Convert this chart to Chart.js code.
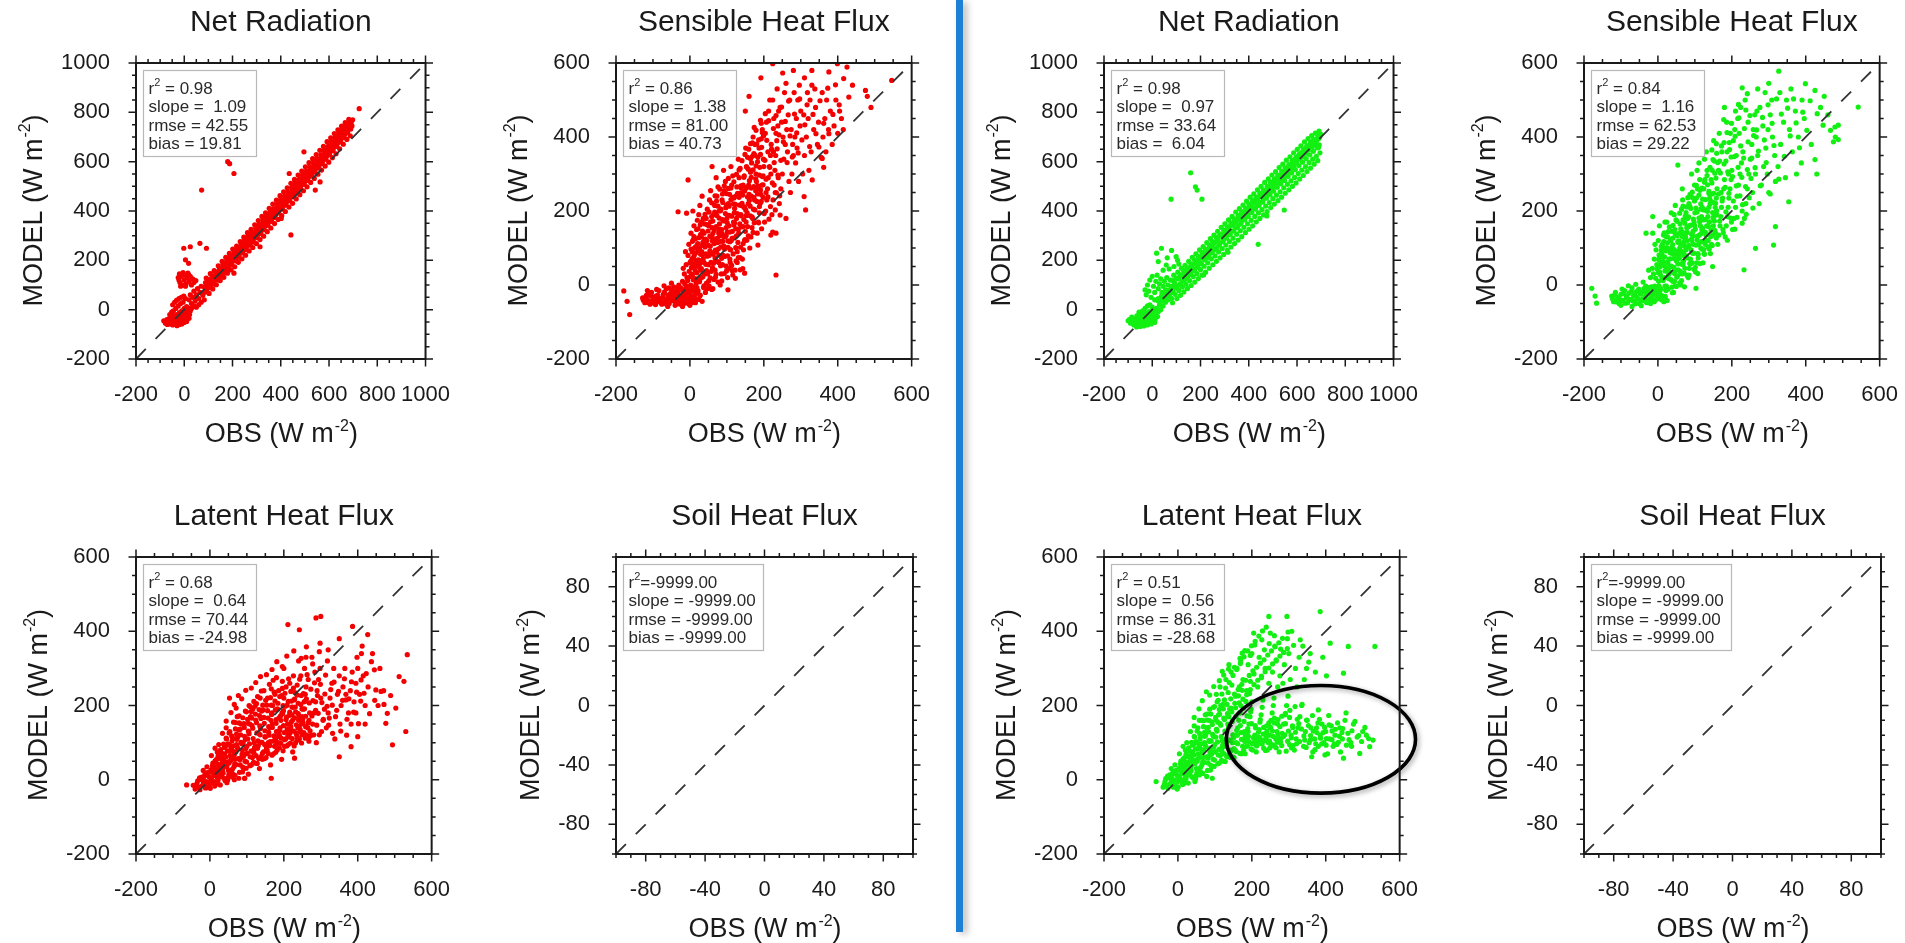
<!DOCTYPE html>
<html><head><meta charset="utf-8">
<script src="https://cdn.jsdelivr.net/npm/chart.js@4.4.1/dist/chart.umd.min.js"></script>
<style>
html,body{margin:0;padding:0;background:#fff;width:1905px;height:943px;overflow:hidden;}
canvas{position:absolute;}
#divider{position:absolute;left:956px;top:0;width:7px;height:932px;background:#1d80d4;box-shadow:4px 2px 7px rgba(0,0,0,0.28);}
</style></head><body>
<div id="divider"></div>
<script>
const FONT = "'Liberation Sans', Arial, Helvetica, sans-serif";

// ---------- axes ----------
const netTicks = [-200,0,200,400,600,800,1000];
const fluxTicks = [-200,0,200,400,600];
const soilTicks = [-80,-40,0,40,80];
const netRange = [-200,1000];
const fluxRange = [-200,600];
const soilRange = [-100,100];
const netMinor = 50, fluxMinor = 50, soilMinor = 10;

// ---------- texts ----------
const panelTitles = ['Net Radiation','Sensible Heat Flux','Net Radiation','Sensible Heat Flux',
                     'Latent Heat Flux','Soil Heat Flux','Latent Heat Flux','Soil Heat Flux'];
const statR2 = [' = 0.98',' = 0.86',' = 0.98',' = 0.84',' = 0.68','=-9999.00',' = 0.51','=-9999.00'];
const statSlope = ['slope =  1.09','slope =  1.38','slope =  0.97','slope =  1.16','slope =  0.64','slope = -9999.00','slope =  0.56','slope = -9999.00'];
const statRmse = ['rmse = 42.55','rmse = 81.00','rmse = 33.64','rmse = 62.53','rmse = 70.44','rmse = -9999.00','rmse = 86.31','rmse = -9999.00'];
const statBias = ['bias = 19.81','bias = 40.73','bias =  6.04','bias = 29.22','bias = -24.98','bias = -9999.00','bias = -28.68','bias = -9999.00'];
const xTitle = 'OBS (W m', yTitle = 'MODEL (W m', unitSup = '-2';

// ---------- data: [OBS, MODEL] ----------
const netRadL = [
 [-85,-45],[-78,-55],[-72,-40],[-70,-60],[-65,-50],[-62,-35],[-58,-58],[-55,-45],[-50,-30],[-48,-62],[-45,-52],[-42,-40],[-40,-25],[-38,-58],[-35,-48],[-32,-35],[-30,-20],[-28,-55],[-25,-42],[-22,-30],[-20,-12],[-18,-50],[-15,-38],[-12,-25],[-10,-5],[-8,-45],[-5,-32],[-2,-18],[0,5],[2,-40],[5,-25],[8,-10],[10,12],[12,-30],[15,-15],[18,5],[20,-35],[22,-20],[25,-5],[-60,-20],[-52,-10],[-45,-5],[-35,5],[-25,15],[-15,25],[-5,30],[-30,-65],[-20,-60],[-10,-58],[0,-52],[10,-48],
 [-48,20],[-40,30],[-32,38],[-22,45],[-12,50],[-2,55],[5,45],
 [-25,130],[-20,145],[-18,110],[-12,135],[-8,100],[-5,150],[0,120],[3,140],[8,105],[12,130],[15,148],[20,115],[25,135],[30,100],[-15,95],[5,95],[-22,120],[18,142],[35,125],[40,110],[48,118],
 [20,40],[25,60],[30,25],[35,50],[40,75],[45,35],[50,60],[55,85],[60,45],[65,70],[70,95],[50,10],[60,20],[70,30],[30,5],[40,15],
 [80,70],[84,92],[77,58],[88,110],[95,85],[98,105],[92,72],[100,122],[110,100],[113,124],[107,90],[115,136],
 [125,118],[128,138],[122,104],[130,152],[140,130],[143,156],[137,120],[146,166],[155,148],[158,170],[152,136],[160,184],
 [170,164],[173,188],[167,150],[176,198],[185,178],[188,202],[182,166],[190,216],[200,196],[203,220],[197,182],[206,234],
 [215,210],[218,234],[212,198],[220,248],[230,228],[233,250],[227,212],[236,266],[245,242],[248,266],[242,230],[250,282],
 [260,258],[263,282],[257,244],[266,298],[275,272],[278,298],[272,262],[280,312],[290,290],[293,314],[287,274],[296,330],
 [305,305],[308,330],[302,292],[310,346],[320,322],[323,346],[317,308],[326,362],[335,340],[338,362],[332,324],[340,378],
 [350,355],[353,380],[347,342],[356,396],[365,372],[368,396],[362,358],[370,410],[380,388],[383,412],[377,374],[386,428],
 [395,405],[398,430],[392,392],[400,446],[410,420],[413,446],[407,408],[416,460],[425,438],[428,462],[422,424],[430,478],
 [440,455],[443,480],[437,442],[446,496],[455,470],[458,496],[452,458],[460,512],[470,488],[473,512],[467,474],[476,528],
 [485,505],[488,530],[482,492],[490,546],[500,520],[503,546],[497,508],[506,562],[515,538],[518,562],[512,524],[520,578],
 [530,555],[533,580],[527,542],[536,596],[545,572],[548,596],[542,558],[550,612],[560,588],[563,612],[557,574],[566,628],
 [575,605],[578,630],[572,592],[580,646],[590,622],[593,648],[587,610],[596,662],[605,640],[608,665],[602,628],[610,680],
 [620,658],[623,682],[617,645],[626,698],[635,675],[638,700],[632,662],[640,714],[650,692],[653,716],[647,680],[656,730],
 [665,710],[668,732],[662,698],[670,746],[680,730],[683,752],[677,718],[686,760],[695,745],[692,760],[690,732],
 [725,815],[180,600],[188,592],[206,552],[72,485],[442,303],[314,255],[402,370],[563,518],[543,485],[496,640],[435,552],
 [-2,249],[25,255],[65,269],[92,249],[18,188],[5,202],[206,148]
];
const netRadLEdge = [
 [83,40],[91,128],[103,66],[108,146],[118,84],[124,158],[133,101],[141,178],[149,118],[157,196],[164,131],[172,212],[179,148],[187,228],[194,161],[201,246],[209,174],[217,258],[224,192],[232,276],[239,206],[247,294],[254,221],[262,312],[269,238],[277,326],[284,252],[292,344],[299,268],[307,361],[314,284],[322,378],[329,298],[337,393],[344,316],[352,411],[359,331],[367,428],[374,349],[382,444],[389,366],[397,462],[404,381],[412,478],[419,398],[427,494],[434,416],[442,512],[449,431],[457,528],[464,449],[472,546],[479,466],[487,562],[494,482],[502,579],[509,498],[517,596],[524,516],[532,612],[539,532],[547,629],[554,549],[562,646],[569,566],[577,662],[584,582],[592,681],[599,598],[607,697],[614,616],[622,714],[629,632],[637,729],[644,652],[652,744],[659,671],[667,758],[674,690],[682,772],[688,705],[698,770]
];
const netRadLFill = [
 [87,88],[94,97],[104,112],[112,110],[119,126],[127,129],[134,144],[142,146],[149,160],[157,161],[164,178],[171,178],[179,192],[186,193],[194,210],[201,209],[209,226],[216,224],[224,242],[231,241],[239,256],[246,257],[254,273],[261,272],[269,288],[276,288],[284,306],[291,304],[299,320],[306,321],[314,338],[321,337],[329,354],[336,354],[344,372],[351,371],[359,388],[366,386],[374,404],[381,402],[389,420],[396,420],[404,436],[411,437],[419,454],[426,452],[434,470],[441,470],[449,486],[456,487],[464,504],[471,502],[479,520],[486,520],[494,538],[501,536],[509,554],[516,554],[524,570],[531,571],[539,588],[546,586],[554,604],[561,604],[569,622],[576,620],[584,638],[591,638],[599,656],[606,654],[614,672],[621,672],[629,690],[636,690],[644,706],[651,706],[659,722],[666,722],[674,738],[681,740],[688,752]
];

const netRadR = [
 [-95,-40],[-90,-55],[-85,-30],[-80,-48],[-76,-62],[-72,-38],[-68,-52],[-64,-25],[-60,-45],[-56,-60],[-52,-35],[-48,-50],[-45,-20],[-42,-40],[-38,-58],[-35,-30],[-32,-45],[-28,-15],[-25,-35],[-22,-52],[-18,-25],[-15,-40],[-12,-8],[-8,-30],[-5,-48],[-2,-18],[2,-35],[5,-5],[8,-22],[12,-40],[15,-12],[18,5],[22,-28],[25,-8],[-55,-10],[-40,-5],[-30,5],[-20,15],[-10,20],[0,10],[-65,-70],[-50,-68],[-35,-66],[-20,-62],[-5,-58],[10,-52],[-100,-45],
 [-30,80],[-20,100],[-25,60],[-10,120],[-15,75],[0,135],[5,95],[10,70],[15,115],[20,140],[25,85],[30,105],[35,125],[40,70],[45,95],[50,115],[55,80],[60,130],[65,100],[70,75],[75,120],[80,90],[-5,50],[10,40],[25,45],[40,40],
 [18,229],[38,249],[58,181],[99,215],[80,240],[105,200],[25,195],[45,160],[70,165],[90,175],[62,210],[110,185],
 [30,20],[40,35],[50,45],[60,55],[70,62],[35,0],[45,15],[55,30],[65,40],[75,50],[25,35],[38,55],[52,68],[66,78],
 [80,45],[83,70],[78,95],[86,118],[95,62],[98,88],[92,110],[100,128],[110,78],[113,102],[107,125],[115,142],
 [125,92],[128,116],[122,138],[130,158],[140,104],[143,130],[137,152],[146,170],[155,118],[158,144],[152,166],[160,186],
 [170,134],[173,160],[167,182],[176,200],[185,146],[188,172],[182,196],[190,216],[200,162],[203,188],[197,210],[206,232],
 [215,176],[218,202],[212,226],[220,246],[230,190],[233,218],[227,240],[236,262],[245,206],[248,232],[242,256],[250,276],
 [260,218],[263,246],[257,270],[266,292],[275,234],[278,262],[272,284],[280,306],[290,248],[293,276],[287,300],[296,322],
 [305,262],[308,290],[302,314],[310,336],[320,276],[323,306],[317,330],[326,352],[335,290],[338,320],[332,344],[340,368],
 [350,306],[353,334],[347,358],[356,382],[365,320],[368,350],[362,374],[370,398],[380,334],[383,364],[377,388],[386,412],
 [395,348],[398,378],[392,402],[400,428],[410,362],[413,394],[407,418],[416,442],[425,378],[428,408],[422,432],[430,456],
 [440,392],[443,422],[437,446],[446,472],[455,406],[458,436],[452,462],[460,486],[470,420],[473,452],[467,476],[476,500],
 [485,434],[488,466],[482,490],[490,516],[500,450],[503,480],[497,506],[506,530],[515,464],[518,496],[512,520],[520,546],
 [530,478],[533,510],[527,534],[536,560],[545,494],[548,524],[542,550],[550,574],[560,508],[563,540],[557,564],[566,588],
 [575,522],[578,554],[572,578],[580,604],[590,536],[593,568],[587,594],[596,618],[605,552],[608,584],[602,608],[610,632],
 [620,566],[623,598],[617,622],[626,648],[635,580],[638,612],[632,638],[640,662],[650,596],[653,628],[647,652],[656,676],
 [665,610],[668,642],[662,666],[670,690],[680,622],[683,656],[677,680],[686,704],[695,636],[692,668],[690,694],[698,712],
 [159,555],[179,498],[186,485],[206,448],[78,448],[439,265],[314,233],[547,404],[475,380],[213,141]
];
const netRadREdge = [
 [84,28],[89,140],[102,45],[106,152],[117,58],[121,168],[131,72],[136,180],[146,86],[151,196],[161,98],[166,212],[176,112],[181,226],[191,126],[196,242],[206,140],[211,256],[221,152],[226,272],[236,168],[241,288],[251,182],[256,302],[266,196],[271,318],[281,210],[286,334],[296,224],[301,348],[311,240],[316,364],[326,254],[331,378],[341,268],[346,396],[356,282],[361,410],[371,296],[376,424],[386,312],[391,440],[401,326],[406,456],[416,340],[421,470],[431,356],[436,486],[446,370],[451,500],[461,384],[466,516],[476,398],[481,530],[491,414],[496,546],[506,428],[511,560],[521,442],[526,576],[536,456],[541,590],[551,472],[556,606],[566,486],[571,620],[581,500],[586,636],[596,514],[601,650],[611,530],[616,664],[626,544],[631,680],[641,560],[646,694],[656,574],[661,706],[671,590],[676,716],[686,604],[691,724]
];
const netRadRFill = [
 [87,72],[93,104],[104,94],[111,126],[119,107],[126,139],[134,121],[139,160],[148,133],[154,170],[161,150],[169,166],[175,160],[183,190],[188,176],[195,204],[203,186],[209,221],[214,207],[222,226],[228,211],[234,246],[241,229],[249,258],[254,241],[261,273],[268,252],[273,291],[280,268],[288,301],[294,281],[299,314],[306,296],[313,323],[319,305],[324,340],[331,318],[339,351],[344,332],[351,365],[358,343],[364,383],[369,359],[376,392],[384,370],[389,406],[396,387],[403,415],[409,398],[414,431],[421,411],[429,442],[434,423],[441,457],[448,436],[454,470],[461,449],[468,481],[474,462],[479,495],[486,478],[493,508],[499,489],[504,521],[511,503],[519,534],[524,516],[531,546],[537,528],[544,561],[549,542],[556,575],[563,556],[569,587],[574,570],[581,601],[588,583],[594,612],[599,596],[606,625],[613,610],[619,637],[624,621],[631,652],[638,634],[644,664],[649,648],[657,679],[663,660],[669,690],[676,671],[683,688],[689,657],[694,700]
];

const sensL = [
 [-128,-35],[-122,-48],[-118,-28],[-112,-42],[-108,-52],[-104,-20],[-100,-38],[-96,-50],[-92,-30],[-88,-45],[-84,-15],[-80,-40],[-76,-52],[-72,-25],[-68,-44],[-64,-10],[-60,-35],[-56,-50],[-52,-22],[-48,-42],[-44,-5],[-40,-30],[-36,-48],[-32,-18],[-28,-38],[-24,-52],[-20,-25],[-16,-45],[-12,-10],[-8,-35],[-4,-50],[0,-20],[4,-40],[8,-5],[12,-30],[-90,-12],[-70,-2],[-50,5],[-30,0],[-115,-15],[-60,-58],[-40,-55],[-20,-58],[0,-55],[15,-48],
 [-179,-16],[-170,-44],[-163,-80],
 [-20,10],[-15,30],[-10,55],[-5,80],[-18,45],[-8,20],[-3,110],[0,60],[-12,90],
 [2,0],[5,25],[8,50],[10,75],[12,100],[15,125],[18,150],[20,175],[3,140],[6,90],[14,40],[17,65],[20,10],[11,160],[8,200],
 [22,-15],[25,15],[28,40],[30,65],[32,90],[35,115],[38,140],[40,165],[24,190],[27,215],[33,240],[36,180],[39,30],[26,100],[31,130],
 [42,-20],[45,5],[48,30],[50,55],[52,80],[55,105],[58,130],[60,155],[44,180],[47,205],[53,230],[56,255],[59,185],[46,120],[51,160],
 [62,-10],[65,15],[68,40],[70,65],[72,90],[75,115],[78,140],[80,165],[64,190],[67,215],[73,240],[76,265],[79,200],[66,125],[71,290],
 [82,0],[85,30],[88,55],[90,80],[92,105],[95,130],[98,155],[100,180],[84,205],[87,230],[93,255],[96,280],[99,215],[86,150],[91,310],
 [102,20],[105,45],[108,70],[110,95],[112,120],[115,145],[118,170],[120,195],[104,220],[107,245],[113,270],[116,295],[119,235],[106,160],[111,320],
 [122,40],[125,65],[128,90],[130,115],[132,140],[135,165],[138,190],[140,215],[124,240],[127,265],[133,290],[136,315],[139,250],[126,180],[131,340],
 [142,70],[145,95],[148,120],[150,145],[152,170],[155,195],[158,220],[160,245],[144,270],[147,295],[153,320],[156,345],[159,270],[146,210],[151,370],
 [162,100],[165,130],[168,155],[170,180],[172,205],[175,230],[178,255],[180,280],[164,305],[167,330],[173,355],[176,380],[179,300],[166,240],[171,400],
 [182,140],[185,170],[188,195],[190,220],[192,245],[195,270],[198,295],[200,320],[184,345],[187,370],[193,395],[196,420],[199,340],[186,260],[191,445],
 [202,170],[205,200],[208,230],[210,260],[212,290],[215,320],[218,350],[220,380],[204,410],[207,440],[213,470],[216,500],[219,300],[206,250],[211,360],
 [222,190],[225,230],[228,270],[230,310],[232,350],[235,390],[238,430],[240,470],[224,500],[227,450],[233,410],[236,530],[239,290],[226,360],[231,250],
 [242,220],[246,260],[250,300],[254,340],[258,380],[262,420],[266,460],[270,500],[244,480],[248,440],[256,520],[264,360],[268,280],[252,400],[260,545],
 [272,250],[276,300],[280,350],[284,400],[288,450],[292,500],[296,540],[300,470],[274,420],[278,380],[286,330],[294,280],[298,430],[282,520],[290,370],
 [305,300],[310,350],[315,400],[320,450],[325,500],[330,540],[335,420],[340,480],[345,380],[308,460],[318,520],[328,360],[338,530],[348,440],[322,310],
 [355,345],[360,400],[365,450],[370,500],[375,420],[380,470],[390,430],[395,500],[400,410],[410,450],[358,520],[368,360],[385,380],[405,470],[415,420],
 [224,598],[251,573],[399,598],[425,589],[192,560],[376,576],[546,553],[475,526],[430,508],[376,409],[349,373],[358,342],[309,239],[313,203],[260,180],[233,140],[219,135],[233,27],[148,32],[103,-13],[-5,284],[-32,198],[-9,194],[480,510],[490,480],[440,540],[330,580],[160,510],[150,470],[280,580],[310,560],[120,380],[100,360],[60,320]
];
const sensLCore = [
 [-126,-41],[-119,-33],[-114,-47],[-107,-29],[-101,-45],[-97,-33],[-93,-53],[-87,-27],[-83,-36],[-79,-47],[-73,-33],[-69,-19],[-63,-41],[-59,-27],[-53,-37],[-49,-14],[-43,-23],[-37,-39],[-33,-7],[-27,-29],[-23,-43],[-17,-17],[-13,-33],[-7,-23],[-3,-41],[3,-29],[7,-47],[11,-17],[-111,-23],[-89,-37],[-66,-51],[-47,-33],[-21,-47],[-9,-3],[5,-13],[14,-37],[18,-22],[24,-39],[28,-27],[33,-44],[-57,-8],[-38,-17],[-25,-8],[-14,3],
 [1,23],[4,47],[6,71],[9,14],[13,58],[16,87],[19,33],[21,112],[23,68],[26,9],[29,137],[31,44],[34,82],[37,-7],[41,103],[43,56],[46,33],[49,146],[51,11],[54,92],[57,61],[59,-12],[3,97],[7,118],[11,131],[17,5],[22,152],[27,-29],[32,171],[38,61],[42,124],[47,78],[52,-3],[56,171],[58,37],[13,-17],[35,22],[44,-11],[24,50],[29,83],[39,114],
 [61,47],[63,83],[66,112],[69,21],[71,158],[74,64],[77,98],[79,181],[81,133],[83,52],[86,11],[89,118],[91,173],[94,77],[97,209],[99,38],[101,143],[103,102],[106,188],[109,61],[111,231],[114,126],[117,84],[119,162],[121,207],[123,18],[126,133],[129,243],[131,74],[134,189],[137,102],[139,157],[141,221],[143,44],[146,177],[149,123],[62,139],[67,197],[72,227],[78,61],[84,103],[88,246],[93,31],[98,134],[104,261],[108,117],[113,53],[118,219],[124,152],[128,61],[133,237],[138,268],[144,112],[148,254],[68,73],[76,8],[87,139],[102,79],[116,27],[136,41],
 [151,203],[153,262],[156,158],[158,313],[161,229],[163,187],[166,291],[169,348],[171,142],[173,266],[176,203],[179,322],[181,381],[183,246],[186,168],[188,297],[191,353],[193,226],[196,412],[198,271],[201,193],[203,337],[206,286],[208,391],[211,238],[213,444],[216,318],[218,212],[221,367],[223,276],[226,423],[228,331],[231,203],[233,458],[236,368],[238,297],[241,406],[243,241],[246,337],[248,481],[154,121],[164,382],[174,426],[184,108],[194,152],[204,463],[214,178],[224,143],[234,249],[244,189],
 [253,387],[258,442],[263,331],[267,497],[271,403],[277,346],[283,462],[289,411],[293,357],[297,503],[303,392],[311,433],[317,487],[324,374],[333,461],[341,409],[352,498],[362,437],[373,532],[387,461],[394,541],[404,487],[416,558],[362,318],[331,284]
];
const sensLFill = [
 [-6,12],[-2,37],[2,64],[4,-8],[7,29],[9,122],[12,81],[14,17],[16,104],[18,52],[21,-19],[23,93],[24,128],[26,57],[28,163],[30,19],[33,107],[34,146],[36,71],[38,-2],[40,122],[41,191],[43,84],[45,39],[47,163],[49,108],[50,-9],[52,197],[54,132],[55,19],[57,88],[59,222],[61,119],[62,173],[64,59],[66,147],[68,241],[69,94],[71,29],[73,188],[74,126],[76,213],[78,81],[79,151],[81,259],[83,201],[84,118],[86,72],[88,177],[89,223],[91,131],[93,268],[94,97],[96,193],[98,51],[99,247],[101,168],[103,119],[104,288],[106,213],[108,143],[109,96],[111,262],[113,186],[114,39],[116,237],[118,127],[119,279],[121,168],[123,218],[124,101],[126,299],[128,193],[129,248],[131,151],[133,311],[134,216],[136,74],[138,263],[139,187],[141,336],[143,243],[144,158],[146,291],[148,211],[149,353],[151,263],[153,188],[154,318],[156,238],[158,133],[159,367],[161,282],[163,213],[164,341],[166,262],[168,184],[169,384],[171,311],[173,237],[174,168],[176,351],[178,287],[179,418],[181,226],[183,333],[184,268],[186,392],[188,212],[189,318],[191,257],[193,437],[194,372],[196,293],[198,237],[199,403],[-48,-27],[-42,-44],[-36,-23],[-31,-51],[-26,-12],[-19,-36],[-14,-49],[-11,-21],[-4,-13],[6,-31],[10,-42],[19,-7]
];

const sensR = [
 [-125,-30],[-120,-45],[-115,-20],[-110,-38],[-105,-50],[-100,-25],[-95,-42],[-90,-15],[-86,-35],[-82,-48],[-78,-22],[-74,-40],[-70,-8],[-66,-30],[-62,-45],[-58,-18],[-54,-38],[-50,-50],[-46,-25],[-42,-42],[-38,-10],[-34,-32],[-30,-48],[-26,-20],[-22,-38],[-18,-5],[-14,-28],[-10,-45],[-6,-15],[-2,-35],[2,-2],[6,-25],[10,-40],[-80,-2],[-60,2],[-40,8],[-100,-55],[-70,-58],[-45,-56],[-20,-50],
 [-179,-9],[-166,-49],[-170,-30],
 [-20,20],[-15,45],[-10,70],[-5,95],[-12,30],[-3,55],[-14,140],[-32,140],[-14,185],[-8,110],[-25,40],
 [2,10],[5,35],[8,60],[10,85],[12,110],[15,135],[18,20],[20,50],[4,160],[7,-10],[13,75],[17,100],[19,170],[1,120],
 [22,-15],[25,20],[28,45],[30,70],[32,95],[35,120],[38,145],[40,10],[24,170],[27,60],[33,35],[36,195],[39,85],[26,130],
 [42,-20],[45,10],[48,40],[50,65],[52,90],[55,115],[58,140],[60,165],[44,190],[47,215],[53,25],[56,75],[59,100],[54,324],[46,150],
 [62,0],[65,30],[68,55],[70,80],[72,105],[75,130],[78,155],[80,180],[64,205],[67,230],[73,45],[76,95],[79,120],[66,260],[71,140],
 [82,20],[85,45],[88,70],[90,95],[92,120],[95,145],[98,170],[100,195],[84,220],[87,245],[93,60],[96,110],[99,270],[86,160],[91,300],
 [102,35],[105,60],[108,85],[110,110],[112,135],[115,160],[118,185],[120,210],[104,235],[107,260],[113,285],[116,100],[119,150],[106,310],[111,330],
 [122,60],[125,85],[128,110],[130,135],[132,160],[135,185],[138,210],[140,235],[124,260],[127,285],[133,310],[136,120],[139,170],[126,340],[131,360],
 [142,85],[145,110],[148,135],[150,160],[152,185],[155,210],[158,235],[160,260],[144,285],[147,310],[153,335],[156,140],[159,190],[146,365],[151,390],
 [162,110],[165,135],[168,160],[170,185],[172,210],[175,235],[178,260],[180,285],[164,310],[167,335],[173,360],[176,150],[179,385],[166,410],[171,250],
 [182,130],[185,160],[188,185],[190,210],[192,235],[195,260],[198,285],[200,310],[184,335],[187,360],[193,385],[196,410],[199,170],[186,440],[191,300],
 [202,150],[206,180],[210,210],[214,240],[218,270],[222,300],[226,330],[230,360],[204,390],[208,420],[216,450],[224,480],[228,200],[212,350],[220,410],
 [234,180],[238,220],[242,260],[246,300],[250,340],[254,380],[258,420],[262,460],[266,400],[270,350],[236,500],[244,440],[256,250],[264,300],[268,470],
 [274,220],[280,270],[286,320],[292,370],[298,420],[304,460],[310,400],[316,350],[276,480],[284,430],[296,300],[308,500],[318,280],[290,520],[300,250],
 [325,320],[332,380],[340,440],[348,500],[356,420],[364,360],[372,470],[380,400],[388,330],[396,450],[330,520],[345,290],[360,530],[375,300],[390,500],
 [327,578],[228,533],[242,517],[399,544],[425,526],[542,481],[479,427],[475,387],[425,339],[354,225],[318,158],[313,108],[264,99],[233,41],[148,50],[103,-9],[440,480],[460,460],[480,400],[415,380],[430,300],[300,545],[270,530],[450,510],[210,470],[180,480]
];
const sensRCore = [
 [-123,-37],[-117,-27],[-112,-46],[-106,-33],[-99,-41],[-93,-23],[-88,-49],[-84,-29],[-77,-39],[-72,-17],[-67,-43],[-63,-25],[-57,-33],[-52,-11],[-47,-41],[-43,-19],[-36,-37],[-31,-23],[-27,-43],[-23,-9],[-17,-33],[-13,-19],[-7,-41],[-3,-23],[3,-37],[7,-13],[12,-29],[16,-45],[-97,-11],[-61,-51],[-33,-3],[-9,-3],[20,-31],[25,-42],
 [1,33],[3,81],[6,49],[9,104],[11,19],[14,63],[17,141],[19,38],[21,92],[23,-3],[26,114],[29,29],[31,157],[34,71],[37,101],[39,-21],[41,127],[43,48],[46,83],[49,176],[51,21],[54,57],[57,119],[59,6],[4,-22],[13,-31],[28,-11],[36,14],[44,96],[52,133],[58,72],[22,131],[33,49],[47,-2],
 [61,36],[63,91],[66,143],[69,64],[71,118],[74,186],[77,79],[79,26],[81,157],[83,103],[86,213],[89,58],[91,137],[94,236],[97,86],[99,161],[101,48],[103,208],[106,122],[109,73],[111,181],[114,256],[117,139],[119,97],[121,232],[123,176],[126,83],[129,203],[131,121],[134,271],[137,158],[139,97],[141,219],[143,131],[146,246],[149,182],[64,12],[72,-5],[84,27],[96,133],[108,31],[116,205],[128,143],[138,253],[147,107],[68,176],[78,211],
 [151,223],[154,148],[157,289],[159,201],[162,331],[164,246],[167,173],[169,303],[172,376],[174,227],[177,141],[179,327],[182,264],[184,198],[187,412],[189,306],[192,248],[194,366],[197,181],[199,437],[202,293],[204,227],[207,347],[209,402],[212,268],[214,183],[217,318],[219,452],[222,241],[224,376],[227,291],[229,217],[232,343],[234,423],[237,266],[239,191],[242,312],[244,387],[247,236],[249,458],[252,288],[254,343],[257,208],[259,404],[158,382],[178,447],[198,346],[218,488],[238,473],[188,121],[208,151],[228,167],
 [263,317],[267,419],[272,362],[277,268],[283,453],[288,392],[293,331],[298,487],[304,246],[309,437],[314,377],[321,503],[327,286],[334,462],[342,348],[351,478],[358,403],[367,503],[374,438],[383,371],[392,467],[403,418],[412,498],[431,463],[447,432],[467,418],[488,393],[488,432]
];
const sensRFill = [
 [-6,18],[-2,43],[2,69],[4,-6],[7,27],[9,93],[12,54],[14,12],[16,117],[18,76],[21,-12],[23,38],[24,101],[26,62],[28,144],[30,17],[33,87],[34,124],[36,51],[38,-6],[40,109],[41,161],[43,72],[45,31],[47,138],[49,91],[50,-4],[52,172],[54,118],[55,41],[57,83],[59,194],[61,111],[62,152],[64,57],[66,131],[68,213],[69,88],[71,32],[73,167],[74,118],[76,196],[78,73],[79,142],[81,236],[83,184],[84,107],[86,58],[88,162],[89,207],[91,124],[93,251],[94,86],[96,178],[98,42],[99,227],[101,151],[103,108],[104,269],[106,197],[108,132],[109,83],[111,243],[113,171],[114,58],[116,219],[118,117],[119,262],[121,153],[123,203],[124,96],[126,278],[128,177],[129,231],[131,139],[133,296],[134,199],[136,103],[138,247],[139,171],[141,318],[143,227],[144,148],[146,276],[148,196],[149,339],[151,248],[153,173],[154,302],[156,221],[158,127],[159,356],[-48,-21],[-42,-38],[-36,-16],[-31,-46],[-26,-7],[-19,-31],[-14,-44],[-11,-13],[-4,-8],[6,-29],[10,-38],[19,-3]
];

const latentL = [
 [-40,-25],[-35,-10],[-30,-20],[-25,0],[-20,-15],[-15,10],[-10,-5],[-5,20],[0,-10],[-28,5],[-18,25],[-8,35],[-63,-14],[-45,-15],[-12,-22],[-2,-18],
 [2,5],[5,25],[8,45],[10,-5],[12,15],[15,35],[18,55],[20,75],[22,0],[25,20],[28,40],[30,60],[4,65],[14,85],[24,95],[16,-12],
 [32,10],[35,30],[38,50],[40,70],[42,90],[45,110],[48,5],[50,25],[52,45],[55,65],[58,85],[60,105],[34,125],[44,140],[54,130],[53,220],[71,193],[46,-8],
 [62,15],[65,35],[68,55],[70,75],[72,95],[75,115],[78,135],[80,20],[82,40],[85,60],[88,80],[90,100],[64,155],[74,170],[84,150],[94,4],[66,0],
 [92,30],[95,50],[98,70],[100,90],[102,110],[105,130],[108,150],[110,170],[112,40],[115,60],[118,80],[120,100],[96,185],[106,200],[116,190],[104,15],
 [122,45],[125,65],[128,85],[130,105],[132,125],[135,145],[138,165],[140,185],[142,55],[145,75],[148,95],[150,115],[126,205],[136,220],[146,240],[134,30],
 [152,60],[155,80],[158,100],[160,120],[162,140],[165,160],[168,180],[170,200],[172,70],[175,90],[178,110],[180,130],[156,220],[166,245],[176,230],[166,4],[164,40],
 [182,80],[185,100],[188,120],[190,140],[192,160],[195,180],[198,200],[200,220],[202,90],[205,110],[208,130],[210,150],[186,240],[196,265],[206,250],[194,55],
 [212,95],[215,115],[218,135],[220,155],[222,175],[225,195],[228,215],[230,235],[232,100],[235,120],[238,140],[240,160],[216,260],[226,280],[236,255],[229,58],[224,75],
 [242,110],[245,130],[248,150],[250,170],[252,190],[255,210],[258,230],[260,250],[262,120],[265,140],[268,160],[270,180],[246,280],[256,300],[266,270],[269,116],
 [274,120],[278,150],[282,180],[286,210],[290,240],[294,270],[298,300],[302,130],[306,160],[310,190],[276,330],[288,100],[300,220],[284,290],[296,345],
 [315,140],[320,180],[325,220],[330,260],[335,300],[340,170],[345,230],[350,280],[355,200],[360,250],[365,300],[318,320],[338,110],[352,150],[368,230],[323,166],[332,125],
 [375,180],[380,240],[385,290],[390,210],[395,260],[400,300],[405,230],[410,340],[415,280],[420,200],[428,250],[382,150],[398,330],[412,360],
 [211,418],[242,404],[287,436],[300,440],[386,413],[427,391],[534,337],[512,278],[525,265],[503,193],[480,179],[476,152],[530,130],[494,94],[400,116],[350,62],[382,89],[449,242],[445,296],[409,269],[368,215],[94,4],[350,380],[320,350],[260,330],[440,340],[460,300],[470,240],[455,200],[420,150],[370,120],[395,180],[240,320],[200,300],[180,275]
];
const latentLCore = [
 [-37,-17],[-33,-3],[-27,-27],[-22,7],[-17,-7],[-13,17],[-7,-21],[-3,9],[1,-23],[3,27],[6,-3],[9,33],[11,11],[13,-17],[16,47],[19,21],[21,-3],[23,57],[26,33],[29,9],[31,73],[33,43],[36,18],[39,87],[41,-2],[43,61],[46,36],[49,97],[51,13],[53,77],[56,52],[59,118],[61,29],[63,91],[66,67],[69,137],[71,41],[73,109],[76,83],[79,153],[81,54],[83,121],[86,97],[89,167],[91,63],[93,141],[96,109],[99,183],[101,71],[103,152],[106,124],[109,197],[111,77],[113,166],[116,139],[119,211],[121,87],[123,177],[126,154],[129,224],[131,92],[133,189],[136,121],[139,239],[141,101],[143,201],[146,168],[149,132],[151,214],[153,87],[156,186],[159,143],[161,257],[163,103],[166,201],[169,151],[171,268],[173,118],[176,212],[179,162],[181,97],[183,191],[186,131],[189,224],[191,172],[193,112],[196,246],[199,186],[201,127],[203,233],[206,162],[209,201],[211,119],[213,272],[216,182],[219,143],[221,212],[223,111],[226,247],[229,167],[231,196],[233,126],[236,228],[239,178],[241,143],[243,271],[246,203],[249,121],[251,162],[253,232],[256,191],[259,143],[261,218],[263,283],[266,153],[269,207],[271,132],[273,244],[276,172],[279,213],[281,121],[283,261],[286,187],[289,147],[291,227],[293,179],[296,121],[299,257],[303,208],[307,163],[311,231],[313,282],[317,198],[321,147],[327,243],[331,201],[336,263],[343,187],[348,238],[354,131],[359,214],[364,272],[371,163],[376,218],[383,264],[389,182],[397,236],[402,151],[408,212],[417,233],[423,286],[432,178],[437,318],[446,214],[463,238],[471,203],[489,227],
 [18,-8],[28,-14],[38,4],[48,-1],[58,8],[68,12],[78,4],[88,21],[98,31],[108,38],[118,47],[128,44],[138,62],[148,57],[158,71],[168,66],[178,74],[188,86],[198,78],[208,91],[218,99],[228,91],[238,107],[248,99],[258,112],[268,104],
 [44,158],[57,181],[66,203],[77,227],[86,218],[97,241],[112,247],[124,262],[137,278],[153,283],[168,297],[181,318],[196,305],[208,333],[227,347],[247,327],[261,358],[278,312],[298,368]
];
const latentLFill = [
 [-18,3],[-14,-14],[-9,14],[-4,-6],[1,21],[4,1],[7,38],[10,17],[12,-11],[14,51],[17,29],[19,8],[22,64],[24,41],[27,17],[29,81],[32,54],[34,27],[37,96],[39,66],[42,38],[44,112],[47,78],[49,48],[52,126],[54,93],[57,61],[59,19],[62,112],[64,76],[67,43],[69,154],[72,123],[74,88],[77,57],[79,172],[82,136],[84,101],[87,69],[89,34],[92,151],[94,117],[97,84],[99,48],[102,163],[104,131],[107,97],[109,62],[112,184],[114,146],[117,111],[119,73],[122,198],[124,161],[127,126],[129,86],[132,57],[134,173],[137,138],[139,101],[142,71],[144,188],[147,152],[149,116],[152,79],[154,201],[157,166],[159,128],[162,92],[164,221],[167,176],[169,141],[172,104],[174,236],[177,188],[179,152],[182,116],[184,206],[187,167],[189,133],[192,98],[194,227],[197,178],[199,146],[202,108],[204,198],[207,168],[209,137],[212,211],[214,173],[217,126],[219,238],[222,196],[224,161],[227,131],[229,217],[232,183],[234,148],[237,112],[239,206],[242,171],[244,136],[247,227],[249,191],[252,153],[254,127],[257,211],[259,171]
];

const latentR = [
 [-40,-20],[-35,-5],[-30,-15],[-25,5],[-20,-10],[-15,15],[-10,0],[-5,25],[0,-5],[-28,10],[-18,30],[-8,40],[-59,-5],[-12,-20],[-2,-25],
 [2,10],[5,30],[8,50],[10,0],[12,20],[15,40],[18,60],[20,80],[22,5],[25,25],[28,45],[30,65],[4,70],[14,90],[24,100],[16,-10],
 [32,15],[35,35],[38,55],[40,75],[42,95],[45,115],[48,10],[50,30],[52,50],[55,70],[58,90],[60,110],[34,130],[44,145],[54,140],[46,-5],[58,160],
 [62,20],[65,40],[68,60],[70,80],[72,100],[75,120],[78,140],[80,25],[82,45],[85,65],[88,85],[90,105],[64,160],[74,175],[84,160],[93,4],[86,190],
 [92,35],[95,55],[98,75],[100,95],[102,115],[105,135],[108,155],[110,175],[112,45],[115,65],[118,85],[120,105],[96,195],[106,210],[116,200],[120,292],[104,230],[114,250],
 [122,50],[125,70],[128,90],[130,110],[132,130],[135,150],[138,170],[140,190],[142,60],[145,80],[148,100],[150,120],[126,215],[136,235],[146,255],[130,270],[144,290],[138,310],
 [152,60],[155,80],[158,100],[160,120],[162,140],[165,160],[168,180],[170,200],[172,70],[175,90],[178,110],[180,130],[156,225],[166,250],[176,270],[174,341],[160,300],[170,320],
 [182,70],[185,90],[188,110],[190,130],[192,150],[195,170],[198,190],[200,210],[202,80],[205,100],[208,120],[210,140],[186,240],[196,265],[206,285],[190,310],[200,340],[205,395],
 [212,75],[215,95],[218,115],[220,135],[222,155],[225,175],[228,195],[230,215],[232,85],[235,105],[238,125],[240,145],[216,250],[226,275],[236,300],[220,330],[234,350],[246,440],
 [242,80],[245,100],[248,120],[250,140],[252,160],[255,180],[258,200],[260,220],[262,90],[265,110],[268,130],[270,150],[246,260],[256,290],[266,320],[250,395],[262,360],[270,250],
 [274,75],[278,100],[282,125],[286,150],[290,175],[294,200],[298,225],[302,95],[306,120],[310,145],[276,280],[288,310],[300,340],[284,260],[296,380],[295,440],[308,400],[304,270],
 [315,80],[320,110],[325,140],[330,170],[335,200],[340,90],[345,130],[350,160],[355,100],[360,140],[318,300],[328,330],[338,360],[348,300],[358,340],[322,250],[342,270],[362,62],
 [365,75],[370,110],[375,140],[380,90],[385,120],[390,150],[395,100],[400,130],[405,70],[410,110],[415,145],[420,90],[372,290],[380,188],[392,330],[398,67],[412,368],[385,453],[402,280],
 [425,120],[430,95],[438,140],[445,110],[452,160],[460,125],[468,100],[475,150],[485,115],[492,71],[500,130],[510,120],[519,89],[528,107],[479,157],[448,58],[461,359],[533,359],[448,287],[455,180],[470,90],[440,75]
];
const latentRCore = [
 [-37,-13],[-33,3],[-27,-23],[-22,13],[-17,-3],[-13,21],[-7,-15],[-3,13],[1,-19],[3,31],[6,3],[9,41],[11,17],[13,-13],[16,53],[19,27],[21,3],[23,63],[26,39],[29,13],[31,79],[33,51],[36,24],[39,93],[41,5],[43,67],[46,43],[49,103],[51,18],[53,83],[56,58],[59,124],[61,33],[63,97],[66,73],[69,143],[71,47],[73,117],[76,89],[79,161],[81,58],[83,129],[86,103],[89,177],[91,69],[93,149],[96,117],[99,197],[101,76],[103,161],[106,131],[109,214],[111,82],[113,177],[116,147],[119,231],[121,93],[123,191],[126,162],[129,247],[131,99],[133,203],[136,172],[139,262],[141,107],[143,218],[146,183],[149,281],[151,113],[153,231],[156,194],[159,297],[161,121],[163,243],[166,207],[169,313],[171,127],[173,257],[176,217],[179,331],[181,103],[183,268],[186,229],[189,347],[191,117],[193,281],[196,243],[199,361],[201,97],[203,293],[206,256],[209,373],[211,107],[213,303],[216,268],[219,387],[221,113],[223,314],[226,279],[229,401],[231,123],[233,323],[236,291],[239,411],[241,131],[243,336],[246,301],[249,86],[251,141],[253,347],[256,312],[259,93],[261,153],[263,358],[266,323],[269,101],[271,162],[273,369],[276,333],[279,111],[281,171],[283,381],[286,343],[289,121],[291,179],[293,77],[296,353],[299,131],[303,187],[307,86],[311,141],[313,362],[317,197],[321,97],[327,151],[331,377],[336,203],[343,107],[348,161],[354,317],[359,119],[364,173],[371,81],[376,127],[383,163],[389,97],[397,141],[402,111],[408,173],[417,131],[423,97],[432,153],[437,117],[446,138],[463,108],[471,132],[489,119],[497,103],[506,141],[516,111],
 [18,-3],[28,-9],[38,8],[48,3],[58,13],[68,17],[78,9],[88,26],[98,36],[108,43],[118,52],[128,49],[138,67],[148,62],[158,76],[168,71],[178,79],[188,91],[198,83],[208,96],[218,104],[228,96],[238,112],[248,104],[258,117],[268,109],
 [44,168],[57,191],[66,213],[77,237],[86,228],[97,251],[112,267],[124,282],[137,298],[153,303],[168,327],[181,348],[196,335],[208,363],[227,377],[247,367],[261,388],[278,352],[298,398]
];
const latentRFill = [
 [-18,8],[-14,-9],[-9,19],[-4,-1],[1,26],[4,6],[7,43],[10,22],[12,-6],[14,56],[17,34],[19,13],[22,69],[24,46],[27,22],[29,86],[32,59],[34,32],[37,101],[39,71],[42,43],[44,117],[47,83],[49,53],[52,131],[54,98],[57,66],[59,24],[62,117],[64,81],[67,48],[69,159],[72,128],[74,93],[77,62],[79,177],[82,141],[84,106],[87,74],[89,39],[92,156],[94,122],[97,89],[99,53],[102,168],[104,136],[107,102],[109,67],[112,189],[114,151],[117,116],[119,78],[122,203],[124,166],[127,131],[129,91],[132,62],[134,178],[137,143],[139,106],[142,76],[144,193],[147,157],[149,121],[152,84],[154,206],[157,171],[159,133],[162,97],[164,226],[167,181],[169,146],[172,109],[174,241],[177,193],[179,157],[182,121],[184,211],[187,172],[189,138],[192,103],[194,232],[197,183],[199,151],
 [204,113],[209,146],[213,91],[218,128],[223,162],[227,107],[232,141],[237,79],[241,118],[246,153],[251,97],[256,131],[261,166],[266,86],[271,121],[276,143],[281,92],[286,117],[291,151],[297,104],[302,168],[307,113],[312,92],[318,128],[323,163],[329,103],[334,137],[341,118],[347,87],[353,146],[359,108],[366,131],[373,97],[379,153],[386,112],[393,127],[401,93],[409,148],[417,108],[426,136],[434,101],[444,127],[456,93]
];
const soilL = [];
const soilR = [];

// annotation oval (data units) on the right latent heat panel
const ovalLatentR = {x: 387, y: 109, rx: 256, ry: 145};

const RED = '#f50000', GREEN = '#12f012';

const panels = [
 {i:0, pts:netRadL.concat(netRadLEdge, netRadLFill), color:RED,   range:netRange,  ticks:netTicks,  minor:netMinor,  left:136,  top:63},
 {i:1, pts:sensL.concat(sensLCore, sensLFill),       color:RED,   range:fluxRange, ticks:fluxTicks, minor:fluxMinor, left:616,  top:63},
 {i:2, pts:netRadR.concat(netRadREdge, netRadRFill), color:GREEN, range:netRange,  ticks:netTicks,  minor:netMinor,  left:1104, top:63},
 {i:3, pts:sensR.concat(sensRCore, sensRFill),       color:GREEN, range:fluxRange, ticks:fluxTicks, minor:fluxMinor, left:1584, top:63},
 {i:4, pts:latentL.concat(latentLCore, latentLFill), color:RED,   range:fluxRange, ticks:fluxTicks, minor:fluxMinor, left:136,  top:557},
 {i:5, pts:soilL,                                    color:RED,   range:soilRange, ticks:soilTicks, minor:soilMinor, left:616,  top:557},
 {i:6, pts:latentR.concat(latentRCore, latentRFill), color:GREEN, range:fluxRange, ticks:fluxTicks, minor:fluxMinor, left:1104, top:557, oval:ovalLatentR},
 {i:7, pts:soilR,                                    color:GREEN, range:soilRange, ticks:soilTicks, minor:soilMinor, left:1584, top:557}
];

function drawUnitText(ctx, pre, cx, by, size) {
  const main = size + 'px ' + FONT, small = Math.round(size * 0.6) + 'px ' + FONT;
  ctx.font = main; const w1 = ctx.measureText(pre).width; const w3 = ctx.measureText(')').width;
  ctx.font = small; const w2 = ctx.measureText(unitSup).width;
  let x = cx - (w1 + w2 + w3) / 2;
  ctx.textAlign = 'left'; ctx.textBaseline = 'alphabetic';
  ctx.font = main; ctx.fillText(pre, x, by); x += w1 + 1;
  ctx.font = small; ctx.fillText(unitSup, x, by - size * 0.42); x += w2;
  ctx.font = main; ctx.fillText(')', x, by);
}

const panelPlugin = {
  id: 'panelDecor',
  afterDatasetsDraw(chart, args, o) {
    const p = o.panel, i = p.i;
    const ctx = chart.ctx, a = chart.chartArea;
    const xs = chart.scales.x, ys = chart.scales.y;
    ctx.save();
    if (p.oval) {
      const cx = xs.getPixelForValue(p.oval.x), cy = ys.getPixelForValue(p.oval.y);
      const rx = xs.getPixelForValue(p.oval.x + p.oval.rx) - cx;
      const ry = cy - ys.getPixelForValue(p.oval.y + p.oval.ry);
      ctx.save();
      ctx.shadowColor = 'rgba(0,0,0,0.35)'; ctx.shadowBlur = 5; ctx.shadowOffsetX = 2; ctx.shadowOffsetY = 2;
      ctx.strokeStyle = '#000'; ctx.lineWidth = 3.6;
      ctx.beginPath(); ctx.ellipse(cx, cy, rx, ry, 0, 0, Math.PI * 2); ctx.stroke();
      ctx.restore();
    }
    const mainF = '17px ' + FONT, supF = '11px ' + FONT;
    ctx.font = mainF;
    const wr = ctx.measureText('r').width;
    ctx.font = supF; const w2 = ctx.measureText('2').width;
    ctx.font = mainF;
    const wr2 = ctx.measureText(statR2[i]).width;
    const lines = [statSlope[i], statRmse[i], statBias[i]];
    let maxW = wr + w2 + wr2;
    lines.forEach(t => { maxW = Math.max(maxW, ctx.measureText(t).width); });
    const bx = a.left + 7, by = a.top + 7, bw = Math.round(maxW + 13), bh = 86;
    ctx.fillStyle = '#fff'; ctx.fillRect(bx, by, bw, bh);
    ctx.strokeStyle = '#b8b8b8'; ctx.lineWidth = 1.2; ctx.strokeRect(bx + 0.5, by + 0.5, bw, bh);
    ctx.fillStyle = '#2a2a2a'; ctx.textAlign = 'left'; ctx.textBaseline = 'middle';
    const tx = bx + 5.5;
    ctx.fillText('r', tx, by + 19);
    ctx.font = supF; ctx.fillText('2', tx + wr, by + 13);
    ctx.font = mainF; ctx.fillText(statR2[i], tx + wr + w2, by + 19);
    ctx.fillText(lines[0], tx, by + 37.5);
    ctx.fillText(lines[1], tx, by + 56);
    ctx.fillText(lines[2], tx, by + 74.5);
    ctx.strokeStyle = '#1a1a1a'; ctx.lineWidth = 2;
    ctx.strokeRect(a.left, a.top, a.right - a.left, a.bottom - a.top);
    ctx.lineWidth = 1.5;
    const mn = p.range[0], mx = p.range[1];
    ctx.beginPath();
    for (let v = mn; v <= mx + 1e-9; v += p.minor) {
      const L = p.ticks.includes(v) ? 7.5 : 4;
      const px = xs.getPixelForValue(v), py = ys.getPixelForValue(v);
      ctx.moveTo(px, a.bottom); ctx.lineTo(px, a.bottom + L);
      ctx.moveTo(px, a.top); ctx.lineTo(px, a.top - L);
      ctx.moveTo(a.left, py); ctx.lineTo(a.left - L, py);
      ctx.moveTo(a.right, py); ctx.lineTo(a.right + L, py);
    }
    ctx.stroke();
    ctx.fillStyle = '#1a1a1a';
    ctx.font = '30px ' + FONT; ctx.textAlign = 'center'; ctx.textBaseline = 'alphabetic';
    ctx.fillText(panelTitles[i], (a.left + a.right) / 2, a.top - 32);
    drawUnitText(ctx, xTitle, (a.left + a.right) / 2, a.bottom + 83, 27);
    ctx.font = '22px ' + FONT;
    let lw = 0; p.ticks.forEach(v => { lw = Math.max(lw, ctx.measureText(String(v)).width); });
    const yc = a.left - 26 - lw - 29;
    ctx.save();
    ctx.translate(yc, (a.top + a.bottom) / 2);
    ctx.rotate(-Math.PI / 2);
    drawUnitText(ctx, yTitle, 0, 9.7, 27);
    ctx.restore();
    ctx.restore();
  }
};

panels.forEach(p => {
  const W = 297, H = p.top < 300 ? 296 : 297;
  const cw = 136 + W + 40, chh = 63 + H + 110;
  const cv = document.createElement('canvas');
  cv.width = cw; cv.height = chh;
  cv.style.left = (p.left - 136) + 'px'; cv.style.top = (p.top - 63) + 'px';
  cv.style.width = cw + 'px'; cv.style.height = chh + 'px';
  document.body.appendChild(cv);
  const mn = p.range[0], mx = p.range[1];
  const tickFont = {family: FONT, size: 22};
  new Chart(cv, {
    type: 'scatter',
    data: {datasets: [
      {type: 'line', data: [{x: mn, y: mn}, {x: mx, y: mx}], borderColor: '#333', borderWidth: 1.8,
       borderDash: [14, 14], pointRadius: 0, fill: false, order: 0, clip: false},
      {data: p.pts.map(q => ({x: q[0], y: q[1]})), pointRadius: 2.6, pointBackgroundColor: p.color,
       backgroundColor: p.color, pointBorderWidth: 0, borderWidth: 0, order: 1}
    ]},
    options: {
      responsive: false, animation: false, devicePixelRatio: 1, events: [],
      layout: {padding: {left: 0, right: 40, top: 63, bottom: 0}},
      plugins: {legend: {display: false}, tooltip: {enabled: false}, title: {display: false}, panelDecor: {panel: p}},
      scales: {
        x: {type: 'linear', position: 'bottom', min: mn, max: mx,
            grid: {display: false, drawTicks: false}, border: {display: false},
            ticks: {font: tickFont, color: '#1a1a1a', padding: 23, maxRotation: 0, autoSkip: false, callback: v => String(v)},
            afterBuildTicks: s => { s.ticks = p.ticks.map(v => ({value: v})); },
            afterFit: s => { s.height = 110; }},
        y: {type: 'linear', position: 'left', min: mn, max: mx,
            grid: {display: false, drawTicks: false}, border: {display: false},
            ticks: {font: tickFont, color: '#1a1a1a', padding: 26, autoSkip: false, callback: v => String(v)},
            afterBuildTicks: s => { s.ticks = p.ticks.map(v => ({value: v})); },
            afterFit: s => { s.width = 136; }}
      }
    },
    plugins: [panelPlugin]
  });
});
</script>
</body></html>
